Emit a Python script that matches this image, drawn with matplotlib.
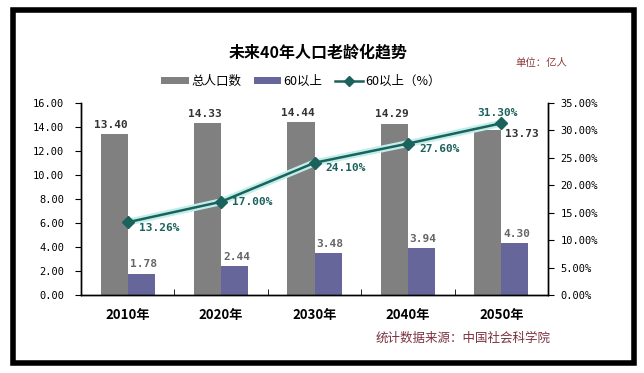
import matplotlib
matplotlib.use("Agg")
import matplotlib.pyplot as plt
import numpy as np
from matplotlib.lines import Line2D
from matplotlib.patches import Patch, Rectangle

plt.rcParams["font.family"] = ["Noto Sans CJK SC", "DejaVu Sans"]

years = ["2010年", "2020年", "2030年", "2040年", "2050年"]
total = [13.40, 14.33, 14.44, 14.29, 13.73]
over60 = [1.78, 2.44, 3.48, 3.94, 4.30]
over60_pct = [13.26, 17.00, 24.10, 27.60, 31.30]

GRAY = "#808080"
PURPLE = "#66669a"
TEAL = "#1b625d"
GLOW = "#c2eeea"
MONO = ["DejaVu Sans Mono"]

fig = plt.figure(figsize=(6.44, 3.73), dpi=100)
fig.patch.set_facecolor("white")
ax = fig.add_axes([81 / 644, 78 / 373, 467 / 644, 192 / 373])
ax2 = ax.twinx()

x = np.arange(len(years))
w = 0.29
ax.bar(x - w / 2, total, w, color=GRAY, zorder=2)
ax.bar(x + w / 2, over60, w, color=PURPLE, zorder=2)

ax.set_xlim(-0.5, len(years) - 0.5)
ax.set_ylim(0, 16)
ax.set_yticks(np.arange(0, 17, 2))
ax.set_yticklabels([f"{v:.2f}" for v in np.arange(0, 17, 2)], family=MONO, fontsize=7.5)
ax.set_xticks(x)
ax.set_xticklabels(years, fontsize=9.5, fontweight="bold")
ax.set_xticks(np.arange(0.5, len(years) - 1, 1), minor=True)
ax.tick_params(axis="x", which="major", length=0, pad=9)
ax.tick_params(axis="x", which="minor", direction="in", length=4)
ax.tick_params(axis="y", direction="out", length=4, pad=8)

ax2.set_ylim(0, 35)
ax2.set_yticks(np.arange(0, 36, 5))
ax2.set_yticklabels([f"{v:.2f}%" for v in np.arange(0, 36, 5)], family=MONO, fontsize=7.5)
ax2.tick_params(axis="y", direction="out", length=4, pad=5)

for a in (ax, ax2):
    a.spines["top"].set_visible(False)
    for s in ("left", "right", "bottom"):
        a.spines[s].set_color("black")
        a.spines[s].set_linewidth(1.0)

ax2.plot(x, over60_pct, color=GLOW, lw=5, solid_capstyle="round", zorder=3)
ax2.plot(x, over60_pct, color=TEAL, lw=1.8, marker="D", markersize=6.5,
         markeredgecolor=TEAL, zorder=4)

for i, v in enumerate(total):
    if i == len(total) - 1:
        ax.annotate(f"{v:.2f}", (x[i], v), xytext=(3, -3), textcoords="offset points",
                    ha="left", va="center", family=MONO, fontsize=8, fontweight="bold",
                    color="#333333")
    else:
        ax.annotate(f"{v:.2f}", (x[i] - w / 2 - 0.03, v), xytext=(0, 3), textcoords="offset points",
                    ha="center", va="bottom", family=MONO, fontsize=8, fontweight="bold",
                    color="#333333")

for i, v in enumerate(over60):
    ax.annotate(f"{v:.2f}", (x[i] + w / 2 + 0.02, v), xytext=(0, 3), textcoords="offset points",
                ha="center", va="bottom", family=MONO, fontsize=8, fontweight="bold",
                color="#666666")

for i, v in enumerate(over60_pct):
    if i == len(over60_pct) - 1:
        ax2.annotate(f"{v:.2f}%", (x[i], v), xytext=(-3, 4), textcoords="offset points",
                     ha="center", va="bottom", family=MONO, fontsize=8, fontweight="bold",
                     color=TEAL, zorder=5)
    else:
        dy = 0 if i == 1 else -4
        ax2.annotate(f"{v:.2f}%", (x[i], v), xytext=(8, dy), textcoords="offset points",
                     ha="left", va="center", family=MONO, fontsize=8, fontweight="bold",
                     color=TEAL, zorder=5)

fig.text(318 / 644, 1 - 53 / 373, "未来40年人口老龄化趋势", ha="center", va="center",
         fontsize=11.5, fontweight="bold")
fig.text(541 / 644, 1 - 63 / 373, "单位：亿人", ha="center", va="center",
         fontsize=7.5, color="#8b3a3a")
fig.text(463 / 644, 1 - 338 / 373, "统计数据来源：中国社会科学院", ha="center", va="center",
         fontsize=9, color="#7b3040")

handles = [
    Patch(facecolor=GRAY, edgecolor="none"),
    Patch(facecolor=PURPLE, edgecolor="none"),
    Line2D([], [], color=TEAL, lw=1.8, marker="D", markersize=5),
]
fig.legend(handles, ["总人口数", "60以上", "60以上（%）"], loc="center",
           bbox_to_anchor=(301 / 644, 1 - 81 / 373), ncol=3, frameon=False,
           fontsize=9, handlelength=2.2, handleheight=0.5, columnspacing=1.0,
           handletextpad=0.2)

fig.patches.append(Rectangle((13 / 644, 10 / 373), 621 / 644, 353 / 373,
                             transform=fig.transFigure, fill=False,
                             edgecolor="black", lw=4))

fig.savefig("out.png", dpi=100, facecolor="white")
